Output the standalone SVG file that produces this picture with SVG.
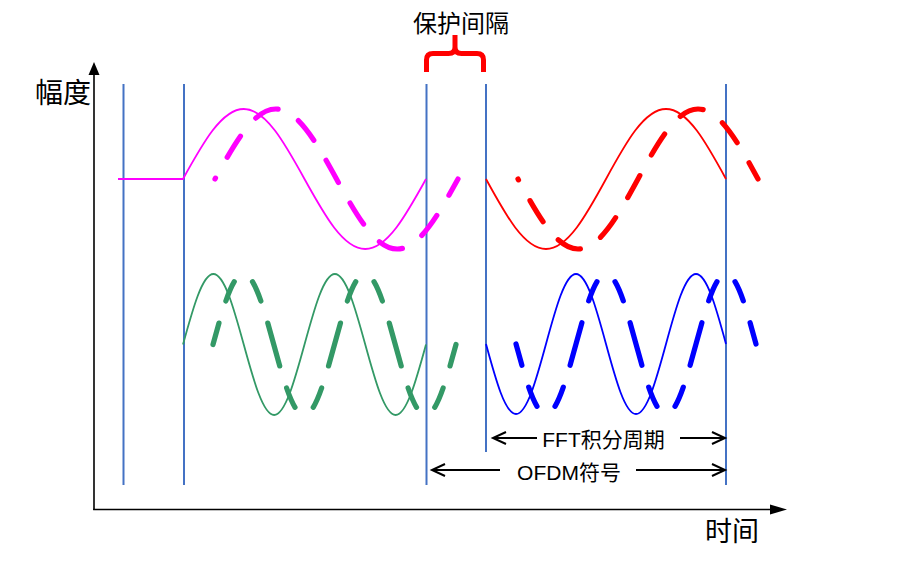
<svg xmlns="http://www.w3.org/2000/svg" width="906" height="564" viewBox="0 0 906 564">
<style>
.txt{font-family:"Liberation Sans","Noto Sans CJK SC",sans-serif;fill:#000}
.vl{stroke:#4472C4;stroke-width:2;fill:none}
.solid{fill:none;stroke-width:1.8}
.dash{fill:none;stroke-linecap:round;stroke-width:5.2}
.arr{stroke:#000;stroke-width:2;fill:none}
</style>
<defs>
<marker id="open" viewBox="-16 -8 18 16" markerWidth="18" markerHeight="16" refX="0" refY="0" orient="auto" markerUnits="userSpaceOnUse" overflow="visible">
<path d="M-13,-6 L0,0 L-13,6" fill="none" stroke="#000" stroke-width="2"/>
</marker>
</defs>
<rect width="906" height="564" fill="#fff"/>

<g id="axes">
<line x1="94" y1="510" x2="94" y2="72" stroke="#000" stroke-width="1.6"/>
<polygon points="94,62 88.5,75 99.5,75" fill="#000"/>
<line x1="93.2" y1="509.5" x2="775" y2="509.5" stroke="#000" stroke-width="1.6"/>
<polygon points="787,509.5 770,504.5 770,514.5" fill="#000"/>
<text class="txt" x="91" y="103" font-size="28" text-anchor="end">幅度</text>
<text class="txt" x="732" y="541" font-size="27" text-anchor="middle">时间</text>
</g>

<g id="guides">
<line class="vl" x1="123.5" y1="84" x2="123.5" y2="485"/>
<line class="vl" x1="184" y1="84" x2="184" y2="485"/>
<line class="vl" x1="426.5" y1="84" x2="426.5" y2="485"/>
<line class="vl" x1="486" y1="84" x2="486" y2="452"/>
<line class="vl" x1="726" y1="84" x2="726" y2="485"/>
</g>

<g id="guard-interval">
<path d="M426.5,72 V60 Q426.5,53.5 433,53.5 H448.5 Q455,53.5 455,47 V35 M483.5,72 V60 Q483.5,53.5 477,53.5 H461.5 Q455,53.5 455,47" fill="none" stroke="#FF0000" stroke-width="5"/>
<text class="txt" x="461" y="31.5" font-size="24" text-anchor="middle">保护间隔</text>
</g>

<g id="magenta-wave">
<path class="solid" stroke="#FF00FF" d="M118,179 H183 c19.81,-35.86 38.76,-70 60.75,-70 c21.99,0 40.94,34.14 60.75,70 c19.81,35.86 38.76,70 60.75,70 c21.99,0 40.94,-34.14 60.75,-70"/>
<path class="dash" stroke="#FF00FF" pathLength="384" stroke-dasharray="25 23.7" stroke-dashoffset="24" d="M215,179 c19.81,-35.86 38.76,-70 60.75,-70 c21.99,0 40.94,34.14 60.75,70 c19.81,35.86 38.76,70 60.75,70 c21.99,0 40.94,-34.14 60.75,-70"/>
</g>

<g id="red-wave">
<path class="solid" stroke="#FF0000" d="M486,179 c19.57,35.86 38.29,70 60,70 c21.71,0 40.43,-34.14 60,-70 c19.57,-35.86 38.29,-70 60,-70 c21.71,0 40.43,34.14 60,70"/>
<path class="dash" stroke="#FF0000" stroke-width="5.6" pathLength="384" stroke-dasharray="25 23.7" stroke-dashoffset="24" d="M518,179 c19.57,35.86 38.29,70 60,70 c21.71,0 40.43,-34.14 60,-70 c19.57,-35.86 38.29,-70 60,-70 c21.71,0 40.43,34.14 60,70"/>
</g>

<g id="green-wave">
<path class="solid" stroke="#339966" d="M183,344.5 c9.905,-36.12 19.38,-70.5 30.375,-70.5 c10.995,0 20.47,34.38 30.375,70.5 c9.905,36.12 19.38,70.5 30.375,70.5 c10.995,0 20.47,-34.38 30.375,-70.5 c9.905,-36.12 19.38,-70.5 30.375,-70.5 c10.995,0 20.47,34.38 30.375,70.5 c9.905,36.12 19.38,70.5 30.375,70.5 c10.995,0 20.47,-34.38 30.375,-70.5"/>
<path class="dash" stroke="#339966" pathLength="628" stroke-dasharray="44 23 21 25 21 23" stroke-dashoffset="22" d="M213,344.5 c9.905,-36.12 19.38,-70.5 30.375,-70.5 c10.995,0 20.47,34.38 30.375,70.5 c9.905,36.12 19.38,70.5 30.375,70.5 c10.995,0 20.47,-34.38 30.375,-70.5 c9.905,-36.12 19.38,-70.5 30.375,-70.5 c10.995,0 20.47,34.38 30.375,70.5 c9.905,36.12 19.38,70.5 30.375,70.5 c10.995,0 20.47,-34.38 30.375,-70.5"/>
</g>

<g id="blue-wave">
<path class="solid" stroke="#0000FF" d="M486,344 c9.783,35.86 19.14,70 30,70 c10.86,0 20.22,-34.14 30,-70 c9.783,-35.86 19.14,-70 30,-70 c10.86,0 20.22,34.14 30,70 c9.783,35.86 19.14,70 30,70 c10.86,0 20.22,-34.14 30,-70 c9.783,-35.86 19.14,-70 30,-70 c10.86,0 20.22,34.14 30,70"/>
<path class="dash" stroke="#0000FF" stroke-width="5.8" pathLength="628" stroke-dasharray="44 23 21 25 21 23" stroke-dashoffset="22" d="M516,344 c9.783,35.86 19.14,70 30,70 c10.86,0 20.22,-34.14 30,-70 c9.783,-35.86 19.14,-70 30,-70 c10.86,0 20.22,34.14 30,70 c9.783,35.86 19.14,70 30,70 c10.86,0 20.22,-34.14 30,-70 c9.783,-35.86 19.14,-70 30,-70 c10.86,0 20.22,34.14 30,70"/>
</g>

<g id="connectors">
<line class="arr" x1="537" y1="438" x2="493" y2="438" marker-end="url(#open)"/>
<line class="arr" x1="680" y1="438" x2="725" y2="438" marker-end="url(#open)"/>
<line class="arr" x1="500" y1="470" x2="432" y2="470" marker-end="url(#open)"/>
<line class="arr" x1="636" y1="470" x2="725" y2="470" marker-end="url(#open)"/>
</g>

<g id="fft-label">
<text class="txt" x="603.5" y="446.5" font-size="21" text-anchor="middle">FFT积分周期</text>
</g>
<g id="ofdm-label">
<text class="txt" x="569" y="479.5" font-size="21" text-anchor="middle">OFDM符号</text>
</g>
</svg>
